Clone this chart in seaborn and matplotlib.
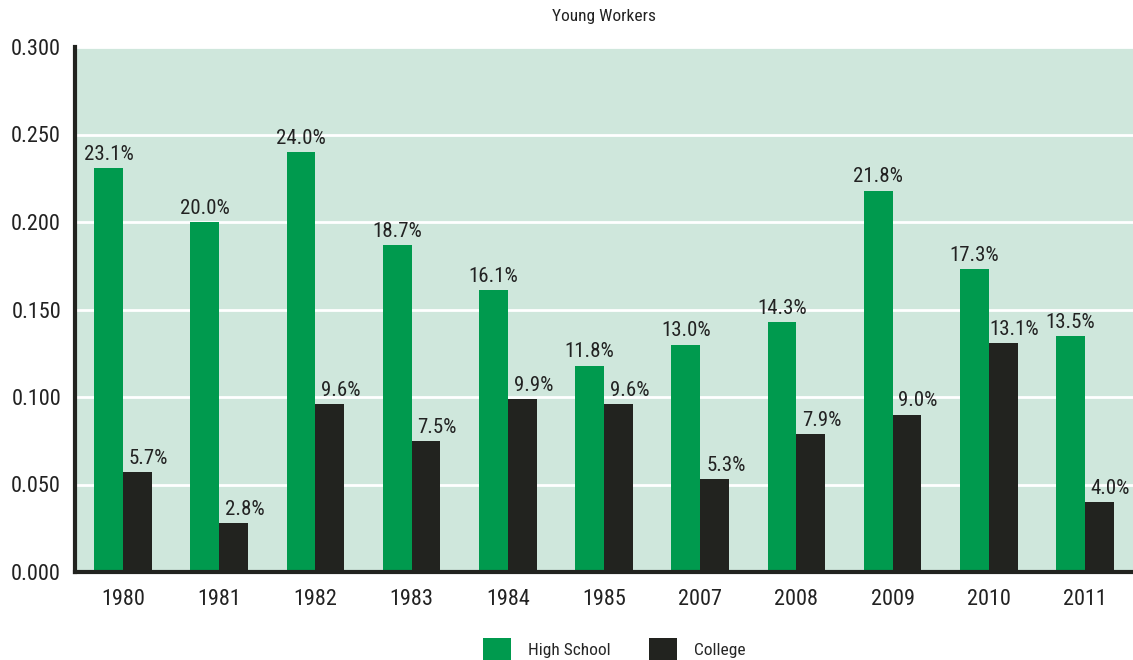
import matplotlib
matplotlib.use("Agg")
import matplotlib.pyplot as plt
from matplotlib import font_manager
import seaborn as sns
import pandas as pd
import numpy as np

years = ["1980", "1981", "1982", "1983", "1984", "1985", "2007", "2008", "2009", "2010", "2011"]
high_school = [0.231, 0.200, 0.240, 0.187, 0.161, 0.118, 0.130, 0.143, 0.218, 0.173, 0.135]
college = [0.057, 0.028, 0.096, 0.075, 0.099, 0.096, 0.053, 0.079, 0.090, 0.131, 0.040]
series_names = ["High School", "College"]
title = "Young Workers"

GREEN = "#009a4e"
DARK = "#22231f"
BG = "#cfe7dc"

sns.set_theme(style="white")
avail = {f.name for f in font_manager.fontManager.ttflist}
cands = ["Roboto Condensed", "Liberation Sans Narrow", "Open Sans Condensed", "Noto Sans Condensed", "Roboto"]
fam = [c for c in cands if c in avail][:1] + ["DejaVu Sans"]
plt.rcParams["font.family"] = fam
condensed = fam[0] != "Roboto"

df = pd.DataFrame({
    "year": years * 2,
    "value": high_school + college,
    "series": [series_names[0]] * len(years) + [series_names[1]] * len(years),
})

fig = plt.figure(figsize=(11.33, 6.6), dpi=100)
ax = fig.add_axes([75 / 1133, 88 / 660, 1 - 75 / 1133, 525 / 660])
ax.set_facecolor(BG)

sns.barplot(data=df, x="year", y="value", hue="series", order=years,
            hue_order=series_names, palette=[GREEN, DARK], width=0.6,
            saturation=1, ax=ax, zorder=3, linewidth=0)

fs_tick = 16 if condensed else 15
fs_lab = 15 if condensed else 13.5
ax.set_ylim(0, 0.300)
ax.set_xlim(-0.5, len(years) - 0.5)
ax.set_yticks(np.arange(0, 0.301, 0.05))
ax.set_yticklabels([f"{v:.3f}" for v in np.arange(0, 0.301, 0.05)], fontsize=fs_tick, color="#222222")
ax.tick_params(axis="y", which="major", direction="out", length=6, width=1.5, color="#222222", pad=4)
ax.set_xticks(range(len(years)))
ax.set_xticklabels(years, fontsize=fs_tick, color="#222222")
ax.tick_params(axis="x", which="major", length=0, pad=12)
ax.set_xticks(np.arange(-0.5, len(years), 1.0), minor=True)
ax.tick_params(axis="x", which="minor", direction="out", length=5, width=1.2, color="#222222")
ax.grid(axis="y", color="white", linewidth=2, zorder=1)
ax.set_axisbelow(True)
for s in ["top", "right"]:
    ax.spines[s].set_visible(False)
for s in ["left", "bottom"]:
    ax.spines[s].set_color(DARK)
    ax.spines[s].set_linewidth(3)
    ax.spines[s].set_zorder(5)
ax.set_xlabel("")
ax.set_ylabel("")

for ci, cont in enumerate(ax.containers):
    for bar in cont:
        h = bar.get_height()
        x = bar.get_x() + bar.get_width() / 2
        dx = 0 if ci == 0 else 8
        ax.annotate(f"{h * 100:.1f}%", (x, h), xytext=(dx, 3), textcoords="offset points",
                    ha="center", va="bottom", fontsize=fs_lab, color="#222222", zorder=6)

fig.text((75 + 1133) / 2 / 1133, 1 - 17 / 660, title, ha="center", va="center", fontsize=12.5, color="#222222")

leg = ax.legend(loc="upper center", bbox_to_anchor=(0.51, -0.095), ncol=2, frameon=False,
                fontsize=12.5, handlelength=1.6, handleheight=1.7, columnspacing=2.2, handletextpad=1.0)

fig.savefig("out.png", dpi=100)
